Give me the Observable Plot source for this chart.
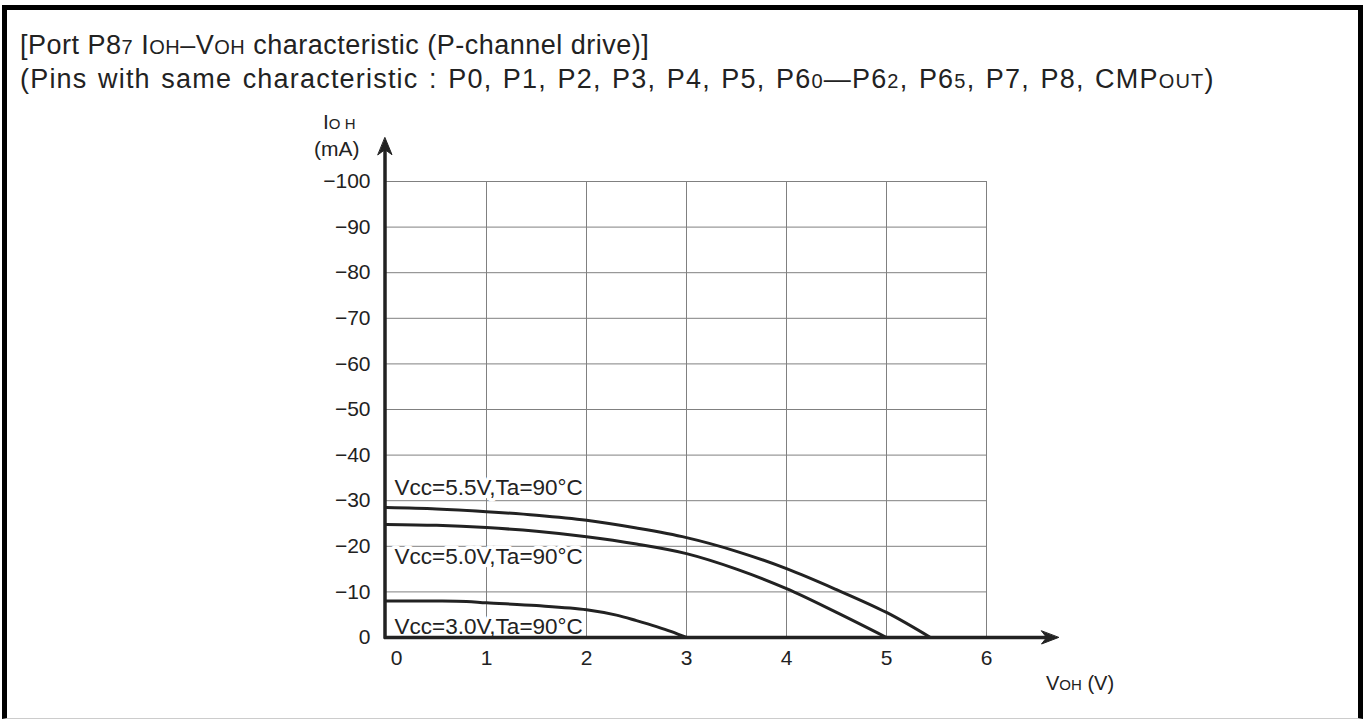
<!DOCTYPE html>
<html>
<head>
<meta charset="utf-8">
<script src="https://cdn.jsdelivr.net/npm/d3@7"></script>
<script src="https://cdn.jsdelivr.net/npm/@observablehq/plot@0.6"></script>
<style>
  html, body { margin: 0; padding: 0; background: #fff; }
  body { width: 1366px; height: 720px; position: relative; overflow: hidden;
         font-family: "Liberation Sans", Arial, Helvetica, sans-serif; color: #222; }
  .frame { position: absolute; left: 2px; top: 5px; width: 1351px; height: 708px;
           border-left: 5px solid #000; border-top: 5px solid #000; border-right: 5px solid #000;
           border-bottom: 1px solid #ccc; }
  .title { position: absolute; left: 20px; font-size: 27px; white-space: nowrap; line-height: 1; letter-spacing: 0.5px; }
  .s { font-size: 20px; }
  .lab { position: absolute; font-size: 21px; white-space: nowrap; line-height: 1; }
  .lab .s { font-size: 15px; }
  #chart { position: absolute; left: 0; top: 110px; }
</style>
</head>
<body>
<div class="frame"></div>
<div class="title" style="top:32px">[Port P8<span class="s">7</span> I<span class="s">OH</span>–V<span class="s">OH</span> characteristic (P-channel drive)]</div>
<div class="title" style="top:66px; letter-spacing: 1.2px; word-spacing: 1.8px">(Pins with same characteristic : P0, P1, P2, P3, P4, P5, P6<span class="s">0</span>—P6<span class="s">2</span>, P6<span class="s">5</span>, P7, P8, CMP<span class="s">OUT</span>)</div>
<div class="lab" style="left:323px; top:111px">I<span class="s">O H</span></div>
<div class="lab" style="left:314px; top:138px">(mA)</div>
<div class="lab" style="left:1046px; top:673px; font-size:20px">V<span class="s">OH</span> (V)</div>
<div id="chart"></div>
<script>
// ---- data ----
const xTicks = [0, 1, 2, 3, 4, 5, 6];
const yTicks = [0, -10, -20, -30, -40, -50, -60, -70, -80, -90, -100];

const v55 = [0, 0.5, 1, 1.5, 2, 2.5, 3, 3.5, 4, 4.5, 5, 5.44];
const i55 = [-28.5, -28.2, -27.6, -26.8, -25.7, -24.0, -21.9, -18.9, -15.1, -10.5, -5.5, 0];

const v50 = [0, 0.5, 1, 1.5, 2, 2.5, 3, 3.5, 4, 4.5, 5];
const i50 = [-24.8, -24.6, -24.1, -23.3, -22.1, -20.5, -18.4, -15.0, -10.7, -5.5, 0];

const v30 = [0, 0.5, 0.8, 1, 1.5, 2, 2.3, 2.5, 2.7, 2.85, 3];
const i30 = [-8, -8, -7.9, -7.6, -7.0, -6.1, -4.9, -3.7, -2.4, -1.3, 0];

const labelText = ["Vcc=5.5V,Ta=90°C", "Vcc=5.0V,Ta=90°C", "Vcc=3.0V,Ta=90°C"];
const labelV = [0.08, 0.08, 0.08];
const labelI = [-32.9, -17.6, -2.4];

const axisEnd = { x: 6.72, y: -109.6 };

// ---- build tables ----
const curves = [
  ...v55.map((v, k) => ({ s: "5.5", v, i: i55[k] })),
  ...v50.map((v, k) => ({ s: "5.0", v, i: i50[k] })),
  ...v30.map((v, k) => ({ s: "3.0", v, i: i30[k] }))
];
const labels = labelText.map((t, k) => ({ t, v: labelV[k], i: labelI[k] }));
const xMin = xTicks[0], xMax = xTicks[xTicks.length - 1];
const yMin = yTicks[0], yMax = yTicks[yTicks.length - 1];

const barb = {
  draw(ctx, l, r) {
    ctx.moveTo(0, -l);
    ctx.lineTo(r, 0);
    ctx.lineTo(0, -l * 0.3);
    ctx.lineTo(-r, 0);
    ctx.closePath();
  }
};

const ink = "#222";
const chart = Plot.plot({
  width: 1366,
  height: 600,
  marginLeft: 386,
  marginRight: 380,
  marginTop: 71,
  marginBottom: 73,
  style: { fontFamily: '"Liberation Sans", Arial, Helvetica, sans-serif', fontSize: "21px", color: ink, background: "transparent" },
  x: { domain: [xMin, xMax] },
  y: { domain: [yMin, yMax] },
  marks: [
    Plot.ruleY(yTicks.slice(1), { y: d => d, x1: xMin, x2: xMax, stroke: "#808080", strokeWidth: 1 }),
    Plot.ruleX(xTicks.slice(1), { x: d => d, y1: yMin, y2: yMax, stroke: "#808080", strokeWidth: 1 }),
    Plot.text(labels, { x: "v", y: "i", text: "t", textAnchor: "start", fontSize: 22.5, fill: ink, stroke: "white", strokeWidth: 7 }),
    Plot.line(curves, { x: "v", y: "i", z: "s", curve: "catmull-rom", stroke: ink, strokeWidth: 3 }),
    Plot.ruleY([0], { x1: -0.02, x2: axisEnd.x - 0.1, stroke: ink, strokeWidth: 3.5 }),
    Plot.ruleX([0], { x: d => d - 0.015, y1: 0.4, y2: axisEnd.y + 2, stroke: ink, strokeWidth: 3.5 }),
    Plot.vector([{ x: axisEnd.x, y: 0, r: 90 }], { x: "x", y: "y", rotate: "r", anchor: "end", length: 17, r: 6.5, shape: barb, fill: ink, stroke: ink, strokeWidth: 1 }),
    Plot.vector([{ x: -0.015, y: axisEnd.y, r: 0 }], { x: "x", y: "y", rotate: "r", anchor: "end", length: 17, r: 7, shape: barb, fill: ink, stroke: ink, strokeWidth: 1 }),
    Plot.axisX({ ticks: xTicks.slice(1), tickSize: 0, tickPadding: 13, label: null, fontSize: 21, tickFormat: d => String(d) }),
    Plot.axisX({ ticks: xTicks.slice(0, 1), tickSize: 0, tickPadding: 13, label: null, fontSize: 21, dx: 10, tickFormat: d => String(d) }),
    Plot.axisY({ ticks: yTicks, tickSize: 0, tickPadding: 16, label: null, fontSize: 21,
                 tickFormat: d => d === 0 ? "0" : "\u2212" + Math.abs(d) })
  ]
});
document.getElementById("chart").appendChild(chart);
</script>
</body>
</html>
